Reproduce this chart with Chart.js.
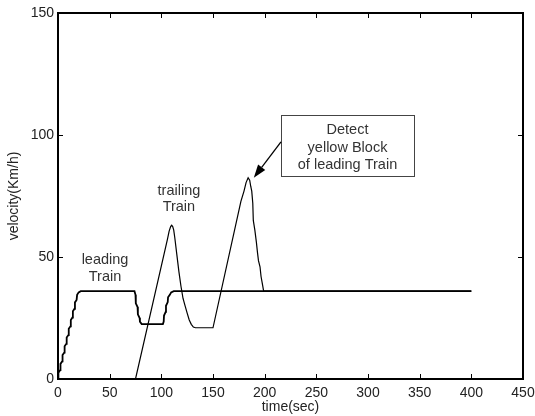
<!DOCTYPE html>
<html>
<head>
<meta charset="utf-8">
<script src="https://cdn.jsdelivr.net/npm/chart.js@4"></script>
<style>
html,body{margin:0;padding:0;background:#fff;}
canvas{display:block;}
</style>
</head>
<body>
<canvas id="c" width="535" height="416"></canvas>
<script>
// ---- data ----
const leadTime = [0,0.4,2,2.4,4,4.4,6,6.4,8,8.4,10,10.4,12,12.4,14,14.4,16,16.4,18,18.5,20,22,
  74,75,75.3,77,77.3,79,79.3,81,101.5,102.3,102.6,104.2,104.5,106.2,106.5,108.2,109.5,112,400];
const leadVel = [0,2.6,3.6,6.2,7.2,9.8,10.8,13.4,14.4,17,18,20.6,21.6,24.2,25.2,27.8,28.8,31.4,32.4,34.5,35.5,36,
  36,34.5,31,29.5,26.5,25,23.5,22.5,22.5,23.5,26,27.5,30,31.5,33.5,34.5,35.5,36,36];

const trailTime = [75,106,107.5,109,110,111,112,113,115,117,119,121,123,125,127,129,131,133,150,
  177,180,182,184,185.5,186.5,187.5,188.5,189,190.5,192,193,194,195.5,196.5,198,199,400];
const trailVel = [0,57.4,60.5,62.5,63,62.5,61,58,51,44,38,33,30,27,24.2,22.4,21.3,21,21,
  72.8,77,80.5,82.5,81.5,79,77,72,65,61,56,52,48.5,46,42,38.5,36,36];

const xTicks = [0,50,100,150,200,250,300,350,400,450];
const yTicks = [0,50,100,150];

// annotation texts (positions in data units)
const notes = [
  {lines:['leading','Train'], x:45.5, y:[48.8,41.8]},
  {lines:['trailing','Train'], x:117, y:[77,70.5]},
  {lines:['Detect','yellow Block','of leading Train'], x:280, y:[102,94.5,87.7]}
];
const noteBox = {x0:215.8, x1:344.5, y0:83.2, y1:108.2};
const noteArrow = {x0:215.8, y0:97.2, x1:189.5, y1:82.5};

const FONT = "'Liberation Sans', Arial, sans-serif";

const boxPlugin = {
  id:'boxTicks',
  afterDraw(chart){
    const {ctx, chartArea:{left,right,top,bottom}, scales:{x,y}} = chart;
    ctx.save();
    // inward ticks
    ctx.strokeStyle = '#000';
    ctx.lineWidth = 1;
    const L = 5;
    ctx.beginPath();
    xTicks.forEach(v=>{
      const px = Math.round(x.getPixelForValue(v))+0.5;
      ctx.moveTo(px,bottom); ctx.lineTo(px,bottom-L);
      ctx.moveTo(px,top); ctx.lineTo(px,top+L);
    });
    yTicks.forEach(v=>{
      const py = Math.round(y.getPixelForValue(v))+0.5;
      ctx.moveTo(left,py); ctx.lineTo(left+L,py);
      ctx.moveTo(right,py); ctx.lineTo(right-L,py);
    });
    ctx.stroke();
    // frame
    ctx.lineWidth = 2;
    ctx.strokeRect(left,top,right-left,bottom-top);

    // annotation box
    const bx0 = x.getPixelForValue(noteBox.x0), bx1 = x.getPixelForValue(noteBox.x1);
    const by0 = y.getPixelForValue(noteBox.y1), by1 = y.getPixelForValue(noteBox.y0);
    ctx.fillStyle = '#fff';
    ctx.fillRect(bx0,by0,bx1-bx0,by1-by0);
    ctx.strokeStyle = '#444';
    ctx.lineWidth = 1;
    ctx.strokeRect(Math.round(bx0)+0.5,Math.round(by0)+0.5,Math.round(bx1-bx0),Math.round(by1-by0));

    // arrow
    const ax0 = x.getPixelForValue(noteArrow.x0), ay0 = y.getPixelForValue(noteArrow.y0);
    const ax1 = x.getPixelForValue(noteArrow.x1), ay1 = y.getPixelForValue(noteArrow.y1);
    const ang = Math.atan2(ay1-ay0, ax1-ax0);
    const hl = 13, hw = 4.5;
    const bxp = ax1 - hl*Math.cos(ang), byp = ay1 - hl*Math.sin(ang);
    ctx.strokeStyle = '#000';
    ctx.lineWidth = 1.3;
    ctx.beginPath(); ctx.moveTo(ax0,ay0); ctx.lineTo(bxp,byp); ctx.stroke();
    ctx.fillStyle = '#000';
    ctx.beginPath();
    ctx.moveTo(ax1,ay1);
    ctx.lineTo(bxp + hw*Math.sin(ang), byp - hw*Math.cos(ang));
    ctx.lineTo(bxp - hw*Math.sin(ang), byp + hw*Math.cos(ang));
    ctx.closePath(); ctx.fill();

    // texts
    ctx.fillStyle = '#333';
    ctx.font = '14.5px ' + FONT;
    ctx.textAlign = 'center';
    ctx.textBaseline = 'middle';
    notes.forEach((n,i)=>{
      const cx = i===2 ? (bx0+bx1)/2 : x.getPixelForValue(n.x);
      n.lines.forEach((s,j)=>{
        ctx.fillText(s, cx, y.getPixelForValue(n.y[j]));
      });
    });
    ctx.restore();
  }
};

new Chart(document.getElementById('c'), {
  type:'line',
  data:{
    datasets:[
      {label:'leading Train', data:leadTime.map((t,i)=>({x:t,y:leadVel[i]})),
        borderColor:'#000', borderWidth:1.8, pointRadius:0, tension:0, fill:false},
      {label:'trailing Train', data:trailTime.map((t,i)=>({x:t,y:trailVel[i]})),
        borderColor:'#000', borderWidth:1.2, pointRadius:0, tension:0, fill:false}
    ]
  },
  options:{
    responsive:false,
    animation:false,
    devicePixelRatio:1,
    layout:{padding:{top:13,right:12,left:0,bottom:0}},
    plugins:{legend:{display:false}, tooltip:{enabled:false}},
    scales:{
      x:{
        type:'linear', min:0, max:450,
        afterBuildTicks(s){ s.ticks = xTicks.map(v=>({value:v})); },
        afterFit(s){ s.height = 37; s.paddingLeft = 0; s.paddingRight = 0; },
        grid:{display:false, drawTicks:false},
        border:{display:false},
        ticks:{font:{size:14, family:FONT}, color:'#222', padding:6, maxRotation:0},
        title:{display:true, text:'time(sec)', font:{size:14, family:FONT}, color:'#222', padding:{top:0,bottom:0}}
      },
      y:{
        type:'linear', min:0, max:150,
        afterBuildTicks(s){ s.ticks = yTicks.map(v=>({value:v})); },
        afterFit(s){ s.width = 58; s.paddingTop = 0; s.paddingBottom = 0; },
        grid:{display:false, drawTicks:false},
        border:{display:false},
        ticks:{font:{size:14, family:FONT}, color:'#222', padding:4},
        title:{display:true, text:'velocity(Km/h)', font:{size:14, family:FONT}, color:'#222', padding:{top:6,bottom:0}}
      }
    }
  },
  plugins:[boxPlugin]
});
</script>
</body>
</html>
